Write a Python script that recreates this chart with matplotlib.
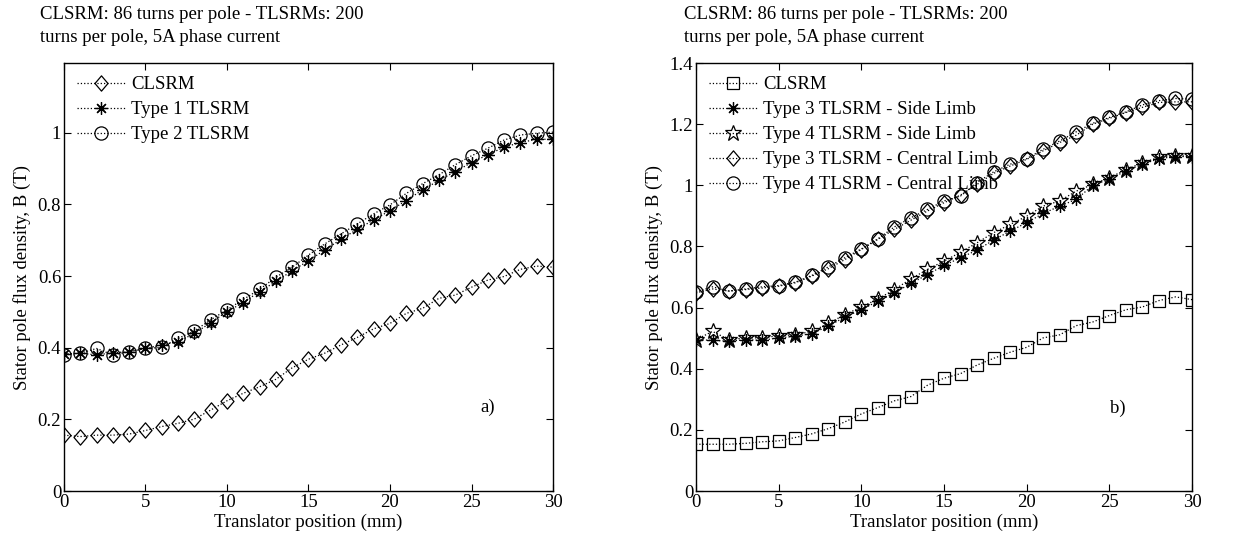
import matplotlib
matplotlib.use("Agg")
import matplotlib.pyplot as plt
from matplotlib.path import Path

plt.rcParams['font.family'] = ['Liberation Serif', 'DejaVu Serif']

x = list(range(31))

# Panel a)
a_clsrm = [0.156, 0.152, 0.156, 0.156, 0.159, 0.169, 0.180, 0.189, 0.201, 0.226, 0.252,
           0.273, 0.291, 0.312, 0.344, 0.368, 0.385, 0.408, 0.429, 0.453, 0.468,
           0.496, 0.510, 0.538, 0.547, 0.569, 0.589, 0.599, 0.619, 0.628, 0.625]
a_type1 = [0.383, 0.385, 0.380, 0.386, 0.389, 0.398, 0.408, 0.417, 0.440, 0.470, 0.501,
           0.526, 0.557, 0.585, 0.615, 0.643, 0.673, 0.703, 0.731, 0.757, 0.783,
           0.811, 0.841, 0.867, 0.892, 0.917, 0.939, 0.960, 0.973, 0.982, 0.982]
a_type2 = [0.380, 0.385, 0.398, 0.380, 0.389, 0.398, 0.401, 0.426, 0.447, 0.478, 0.506,
           0.535, 0.563, 0.597, 0.625, 0.659, 0.690, 0.718, 0.746, 0.774, 0.799,
           0.831, 0.858, 0.883, 0.911, 0.936, 0.957, 0.980, 0.994, 0.999, 1.002]

# Panel b)
b_clsrm = [0.153, 0.153, 0.153, 0.156, 0.161, 0.164, 0.175, 0.187, 0.204, 0.226, 0.252,
           0.273, 0.295, 0.309, 0.346, 0.369, 0.384, 0.412, 0.434, 0.454, 0.470,
           0.501, 0.511, 0.541, 0.553, 0.574, 0.593, 0.602, 0.623, 0.635, 0.626]
b_t3_side = [0.495, 0.493, 0.490, 0.495, 0.493, 0.501, 0.506, 0.515, 0.539, 0.569, 0.593,
             0.621, 0.648, 0.679, 0.708, 0.738, 0.763, 0.788, 0.821, 0.850, 0.878,
             0.908, 0.932, 0.954, 1.000, 1.020, 1.047, 1.069, 1.087, 1.094, 1.094]
b_t4_side = [0.495, 0.522, 0.495, 0.501, 0.501, 0.508, 0.511, 0.522, 0.548, 0.577, 0.602,
             0.628, 0.659, 0.694, 0.725, 0.752, 0.781, 0.812, 0.845, 0.872, 0.899,
             0.932, 0.949, 0.981, 1.003, 1.025, 1.051, 1.074, 1.091, 1.096, 1.096]
b_t3_central = [0.648, 0.661, 0.654, 0.659, 0.664, 0.670, 0.681, 0.703, 0.727, 0.757, 0.790,
                0.823, 0.856, 0.886, 0.916, 0.943, 0.968, 1.003, 1.039, 1.063, 1.085,
                1.113, 1.140, 1.164, 1.200, 1.219, 1.238, 1.255, 1.271, 1.273, 1.273]
b_t4_central = [0.651, 0.668, 0.654, 0.661, 0.668, 0.672, 0.683, 0.705, 0.733, 0.763, 0.792,
                0.825, 0.864, 0.894, 0.921, 0.949, 0.965, 1.009, 1.044, 1.069, 1.087,
                1.118, 1.145, 1.175, 1.203, 1.222, 1.240, 1.263, 1.277, 1.284, 1.282]

title_text = "CLSRM: 86 turns per pole - TLSRMs: 200\nturns per pole, 5A phase current"
xlabel = "Translator position (mm)"
ylabel = "Stator pole flux density, B (T)"
xticks = [0, 5, 10, 15, 20, 25, 30]
a_yticks = [0, 0.2, 0.4, 0.6, 0.8, 1.0]
a_yticklabels = ["0", "0.2", "0.4", "0.6", "0.8", "1"]
b_yticks = [0, 0.2, 0.4, 0.6, 0.8, 1.0, 1.2, 1.4]
b_yticklabels = ["0", "0.2", "0.4", "0.6", "0.8", "1", "1.2", "1.4"]

FS = 13.5

# MATLAB-like markers
diamond = Path([(0, 1), (0.85, 0), (0, -1), (-0.85, 0), (0, 1)],
               [Path.MOVETO, Path.LINETO, Path.LINETO, Path.LINETO, Path.CLOSEPOLY])
asterisk = (8, 2, 0)

fig = plt.figure(figsize=(12.52, 5.40), dpi=100)
axA = fig.add_axes([0.0511, 0.0907, 0.3906, 0.7926])
axB = fig.add_axes([0.5559, 0.0907, 0.3962, 0.7926])

style = dict(color='black', linestyle=':', linewidth=0.9, markerfacecolor='none',
             markeredgecolor='black', markeredgewidth=0.9)

axA.plot(x, a_clsrm, marker=diamond, markersize=11, label='CLSRM', **style)
axA.plot(x, a_type1, marker=asterisk, markersize=9, label='Type 1 TLSRM', **style)
axA.plot(x, a_type2, marker='o', markersize=9.5, label='Type 2 TLSRM', **style)

axB.plot(x, b_clsrm, marker='s', markersize=8, label='CLSRM', **style)
axB.plot(x, b_t3_side, marker=asterisk, markersize=9, label='Type 3 TLSRM - Side Limb', **style)
axB.plot(x, b_t4_side, marker='*', markersize=12, label='Type 4 TLSRM - Side Limb', **style)
axB.plot(x, b_t3_central, marker=diamond, markersize=11, label='Type 3 TLSRM - Central Limb', **style)
axB.plot(x, b_t4_central, marker='o', markersize=9.5, label='Type 4 TLSRM - Central Limb', **style)

for ax, yt, ytl, ylim in [(axA, a_yticks, a_yticklabels, 1.195), (axB, b_yticks, b_yticklabels, 1.4)]:
    ax.set_xlim(0, 30)
    ax.set_ylim(0, ylim)
    ax.set_xticks(xticks)
    ax.set_xticklabels([str(t) for t in xticks])
    ax.set_yticks(yt)
    ax.set_yticklabels(ytl)
    ax.tick_params(direction='in', top=True, right=True, labelsize=FS, length=5,
                   width=0.8, pad=2)
    for s in ax.spines.values():
        s.set_linewidth(1.0)
    ax.set_xlabel(xlabel, fontsize=FS, labelpad=2)
    ax.set_ylabel(ylabel, fontsize=FS, labelpad=5)
    ax.legend(loc='upper left', frameon=False, fontsize=FS, handlelength=2.6,
              handletextpad=0.3, labelspacing=0.42, borderaxespad=0.3,
              bbox_to_anchor=(0.0, 1.0))

fig.text(40 / 1252, 1 - 6 / 540, title_text, fontsize=FS, ha='left', va='top',
         linespacing=1.5)
fig.text(684 / 1252, 1 - 6 / 540, title_text, fontsize=FS, ha='left', va='top',
         linespacing=1.5)

axA.text(26.0, 0.235, "a)", fontsize=FS, ha='center', va='center')
axB.text(25.5, 0.27, "b)", fontsize=FS, ha='center', va='center')

fig.savefig("out.png", dpi=100)
